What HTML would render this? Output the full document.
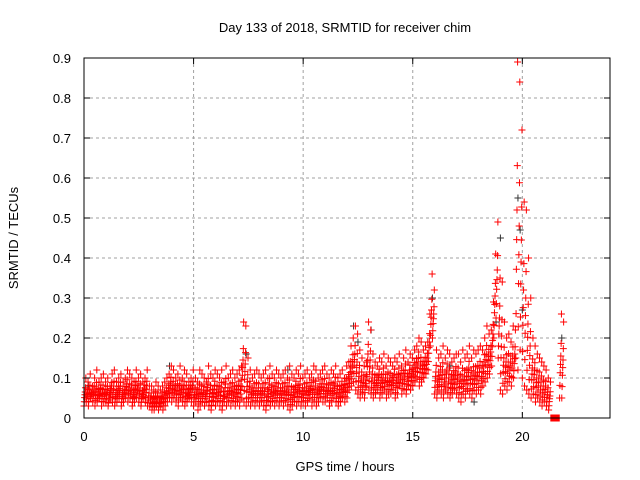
<!DOCTYPE html>
<html><head><meta charset="utf-8"><style>
body{margin:0;background:#fff}
svg{display:block;font-family:"Liberation Sans",sans-serif;font-size:13px}
</style></head><body>
<svg id="chart" width="640" height="480" viewBox="0 0 640 480">
<rect width="640" height="480" fill="#fff"/>
<g id="grid"></g>
<g id="marks"></g>
<g id="axes"></g>
<text x="345" y="32" text-anchor="middle">Day 133 of 2018, SRMTID for receiver chim</text>
<text x="345" y="471" text-anchor="middle">GPS time / hours</text>
<text transform="translate(18,238) rotate(-90)" text-anchor="middle">SRMTID / TECUs</text>
</svg>
<script>
const xTicks=[0,5,10,15,20];
const yTicks=[0,0.1,0.2,0.3,0.4,0.5,0.6,0.7,0.8,0.9];
const yTickLabels=["0","0.1","0.2","0.3","0.4","0.5","0.6","0.7","0.8","0.9"];
const hiVals=[.10,.09,.11,.08,.10,.12,.09,.10,.11,.09,
.10,.08,.11,.12,.09,.10,.11,.09,.10,.12,
.11,.10,.09,.12,.10,.11,.09,.10,.12,.08,
.08,.07,.09,.08,.07,.08,.09,.10,.11,.13,
.12,.10,.11,.13,.10,.12,.11,.09,.10,.12,
.10,.09,.12,.11,.10,.09,.13,.11,.10,.12,
.11,.10,.12,.09,.13,.10,.11,.12,.10,.11,
.12,.13,.24,.23,.15,.12,.10,.11,.12,.11,
.10,.11,.12,.10,.13,.11,.10,.12,.11,.10,
.11,.12,.10,.13,.11,.10,.12,.11,.13,.10,
.11,.12,.10,.11,.13,.12,.10,.11,.12,.13,
.11,.10,.12,.11,.13,.10,.11,.12,.10,.13,
.14,.18,.20,.23,.21,.17,.15,.13,.14,.24,
.22,.16,.14,.13,.15,.14,.16,.13,.15,.14,
.13,.15,.14,.16,.13,.15,.17,.14,.16,.15,
.17,.18,.20,.19,.17,.18,.19,.26,.36,.32,
.17,.15,.16,.18,.15,.17,.16,.14,.15,.16,
.16,.14,.17,.15,.16,.18,.15,.17,.16,.17,
.18,.17,.20,.23,.21,.22,.29,.41,.49,.35,
.34,.24,.20,.21,.19,.23,.22,.89,.84,.72,
.54,.52,.40,.30,.20,.18,.16,.15,.14,.13,
.12,.10,.09,0,0,0,0,.26,.24,null];
const loVals=[.03,.04,.03,.05,.04,.03,.04,.05,.03,.04,
.04,.03,.05,.04,.03,.04,.05,.03,.04,.05,
.04,.05,.03,.04,.05,.04,.03,.05,.04,.03,
.03,.02,.02,.03,.02,.03,.02,.03,.04,.05,
.04,.05,.04,.03,.05,.04,.03,.04,.05,.04,
.03,.04,.02,.03,.04,.03,.04,.03,.02,.04,
.03,.04,.03,.02,.04,.03,.04,.03,.04,.03,
.04,.03,.05,.04,.03,.04,.03,.04,.03,.04,
.03,.04,.03,.02,.04,.03,.04,.03,.04,.03,
.04,.03,.04,.03,.02,.03,.04,.03,.04,.03,
.04,.03,.04,.05,.03,.04,.03,.04,.05,.04,
.04,.05,.03,.04,.05,.04,.03,.04,.05,.04,
.05,.07,.08,.09,.07,.06,.05,.06,.05,.08,
.07,.06,.05,.06,.07,.05,.06,.07,.05,.06,
.06,.07,.05,.06,.08,.06,.07,.06,.08,.07,
.08,.09,.10,.08,.09,.10,.11,.12,.18,.20,
.06,.05,.07,.06,.05,.07,.06,.05,.06,.07,
.06,.05,.04,.06,.05,.07,.06,.05,.07,.06,
.07,.06,.08,.09,.10,.11,.13,.20,.25,.15,
.07,.06,.08,.07,.09,.08,.10,.15,.12,.17,
.10,.08,.07,.06,.05,.06,.04,.05,.04,.03,
.04,.03,.02,0,0,0,0,.05,.05,null];
const blackT=[0.2,3.9,7.4,9.3,12.3,12.5,13.1,15.9,16.7,17.8,18.8,19.0,19.8,19.9,20.0,21.8];
const blackV=[0.08,0.13,0.16,0.12,0.23,0.19,0.22,0.3,0.13,0.04,0.24,0.45,0.55,0.47,0.27,0.2];
const X0=84,X1=610,Y0=418,Y1=58;
const xs=t=>X0+t/24*(X1-X0);
const ys=v=>Y0-v/0.9*(Y0-Y1);
const NS="http://www.w3.org/2000/svg";
const grid=document.getElementById('grid'),axes=document.getElementById('axes'),marks=document.getElementById('marks');
function el(tag,attrs,parent){const e=document.createElementNS(NS,tag);for(const k in attrs)e.setAttribute(k,attrs[k]);parent.appendChild(e);return e;}
xTicks.forEach(t=>{const x=xs(t);
 if(t>0){const g=el('line',{x1:x,x2:x,y1:Y1,y2:Y0,stroke:'#a0a0a0','stroke-dasharray':'3,3'},grid);
 
 }
 el('line',{x1:x,x2:x,y1:Y0,y2:Y0-6,stroke:'#000'},axes);
 el('line',{x1:x,x2:x,y1:Y1,y2:Y1+6,stroke:'#000'},axes);
 const tx=el('text',{x:x,y:Y0+23,'text-anchor':'middle'},axes);tx.textContent=t;
 
 
});
yTicks.forEach((v,i)=>{const y=ys(v);
 if(v>0&&v<0.9){const g=el('line',{x1:X0,x2:X1,y1:y,y2:y,stroke:'#a0a0a0','stroke-dasharray':'3,3'},grid);
 
 }
 el('line',{x1:X0,x2:X0+6,y1:y,y2:y,stroke:'#000'},axes);
 el('line',{x1:X1,x2:X1-6,y1:y,y2:y,stroke:'#000'},axes);
 const tx=el('text',{x:X0-13,y:y+5,'text-anchor':'end'},axes);tx.textContent=yTickLabels[i];
 
 
});
const fr=el('rect',{x:X0,y:Y1,width:X1-X0,height:Y0-Y1,fill:'none',stroke:'#000'},axes);


function plus(t,v,c){const x=xs(t),y=ys(v);
 const p=el('path',{d:`M${x-3.5},${y}h7M${x},${y-3.5}v7`,stroke:c,'stroke-width':1,fill:'none'},marks);
 
 
}
blackT.forEach((t,i)=>plus(t,blackV[i],'#333'));
const fr2=[0,0.15,0.3,0.4,0.5,0.65,1];
hiVals.forEach((h,i)=>{const l=loVals[i];if(h===null)return;const t=i/10;
 fr2.forEach((f,k)=>{plus(t+k*0.014,l+(h-l)*f,'#ff0000');});
});
</script>
</body></html>
